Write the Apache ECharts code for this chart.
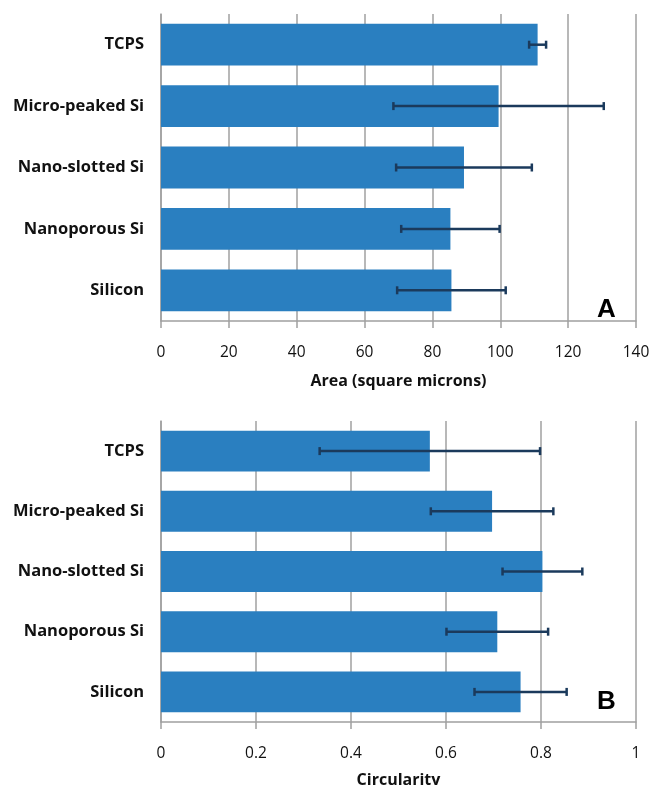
<!DOCTYPE html>
<html>
<head>
<meta charset="utf-8">
<script src="https://cdn.jsdelivr.net/npm/echarts@6/dist/echarts.min.js"></script>
<style>html,body{margin:0;padding:0;background:#fff}#c{width:653px;height:785px}</style>
</head>
<body>
<div id="c"></div>
<script>
const categories = ['TCPS', 'Micro-peaked Si', 'Nano-slotted Si', 'Nanoporous Si', 'Silicon'];
const areaValues = [111.0, 99.5, 89.3, 85.3, 85.6];
const areaErrors = [2.5, 31, 20, 14.5, 16];
const circValues = [0.566, 0.697, 0.803, 0.708, 0.757];
const circErrors = [0.232, 0.129, 0.084, 0.107, 0.097];
const areaTicks = { min: 0, max: 140, interval: 20 };
const circTicks = { min: 0, max: 1, interval: 0.2 };

const BAR = '#2a7fc0', ERR = '#1b3a5c', GRID = '#a0a0a0';
const FONT = 'Open Sans';

function errItem(params, api) {
  const c = api.value(0), e = api.value(1), k = api.value(2);
  const p1 = api.coord([c - e, k]);
  const p2 = api.coord([c + e, k]);
  const h = 4;
  const st = { stroke: ERR, lineWidth: 2.5 };
  return { type: 'group', children: [
    { type: 'line', shape: { x1: p1[0], y1: p1[1], x2: p2[0], y2: p2[1] }, style: st },
    { type: 'line', shape: { x1: p1[0], y1: p1[1] - h, x2: p1[0], y2: p1[1] + h }, style: st },
    { type: 'line', shape: { x1: p2[0], y1: p2[1] - h, x2: p2[0], y2: p2[1] + h }, style: st }
  ]};
}

function xAx(idx, t, name, fmt, gap) {
  return {
    type: 'value', gridIndex: idx, min: t.min, max: t.max, interval: t.interval,
    name: name, nameLocation: 'middle', nameGap: gap,
    nameTextStyle: { fontFamily: FONT, fontWeight: 'bold', fontSize: 16, color: '#111' },
    axisLine: { show: true, lineStyle: { color: GRID, width: 1.5 } },
    axisTick: { show: true, length: 7, lineStyle: { color: GRID, width: 1.5 } },
    splitLine: { show: true, lineStyle: { color: GRID, width: 1.5 } },
    axisLabel: { fontFamily: FONT, fontSize: 15.5, color: '#111', margin: 24, formatter: fmt }
  };
}
function yAx(idx) {
  return {
    type: 'category', gridIndex: idx, data: categories, inverse: true,
    axisLine: { show: true, lineStyle: { color: GRID, width: 1.5 } },
    axisTick: { show: false },
    axisLabel: { fontFamily: FONT, fontWeight: 'bold', fontSize: 16.5, color: '#111', margin: 17 }
  };
}

const chart = echarts.init(document.getElementById('c'));
chart.setOption({
  animation: false,
  grid: [
    { left: 161, right: 17, top: 14, height: 307, outerBoundsMode: 'none' },
    { left: 161, right: 17, top: 421, height: 301, outerBoundsMode: 'none' }
  ],
  xAxis: [ xAx(0, areaTicks, 'Area (square microns)', v => String(v), 52),
           xAx(1, circTicks, 'Circularity', v => String(Math.round(v * 10) / 10), 50) ],
  yAxis: [ yAx(0), yAx(1) ],
  series: [
    { type: 'bar', xAxisIndex: 0, yAxisIndex: 0, data: areaValues, barCategoryGap: '32%', itemStyle: { color: BAR } },
    { type: 'custom', xAxisIndex: 0, yAxisIndex: 0, renderItem: errItem, z: 5,
      data: areaValues.map((v, i) => [v, areaErrors[i], i]) },
    { type: 'bar', xAxisIndex: 1, yAxisIndex: 1, data: circValues, barCategoryGap: '32%', itemStyle: { color: BAR } },
    { type: 'custom', xAxisIndex: 1, yAxisIndex: 1, renderItem: errItem, z: 5,
      data: circValues.map((v, i) => [v, circErrors[i], i]) }
  ],
  graphic: [
    { type: 'text', left: 597, top: 297, style: { text: 'A', font: 'bold 26px "Liberation Sans"', fill: '#000' } },
    { type: 'text', left: 597, top: 689, style: { text: 'B', font: 'bold 26px "Liberation Sans"', fill: '#000' } }
  ]
});
</script>
</body>
</html>
